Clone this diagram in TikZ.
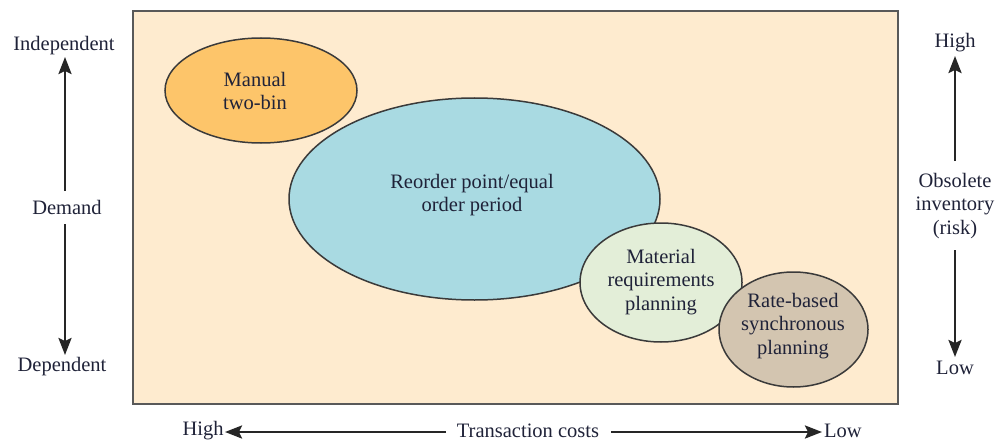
\documentclass[tikz,border=0pt]{standalone}
\usepackage{fontspec}
\setmainfont{Liberation Serif}
\usetikzlibrary{shapes.geometric,arrows.meta}
\definecolor{bgpeach}{HTML}{FEEBCF}
\definecolor{orangefill}{HTML}{FDC56A}
\definecolor{bluefill}{HTML}{A9DAE2}
\definecolor{greenfill}{HTML}{E3EED8}
\definecolor{tanfill}{HTML}{D3C5B0}
\definecolor{txt}{HTML}{1F2238}
\definecolor{edge}{HTML}{3A3A3A}
\begin{document}
\begin{tikzpicture}[x=1pt,y=-1pt,
  every node/.style={font=\fontsize{20.5}{23.5}\selectfont, text=txt, align=center},
  blob/.style={ellipse, draw=edge, line width=1.5pt, inner sep=0pt},
  axisarrow/.style={draw=black!85, line width=2.6pt, -{Stealth[length=17pt,width=13pt,inset=3pt]}}]
\useasboundingbox (0,0) rectangle (998,441);
% frame
\node[draw=black!65, line width=2pt, fill=bgpeach, minimum width=765pt, minimum height=393pt, inner sep=0pt] (frame) at (515.5,207.5) {};
% ellipses
\node[blob, fill=orangefill, minimum width=192pt, minimum height=105pt] (manual) at (261,90.5) {};
\node (manualt) at (255,91) {Manual\\two-bin};
\node[blob, fill=bluefill, minimum width=371pt, minimum height=202pt] (reorder) at (474.5,199) {};
\node (reordert) at (472,195) {Reorder point/equal\\order period};
\node[blob, fill=greenfill, minimum width=162pt, minimum height=119pt] (mrp) at (661,282.5) {};
\node (mrpt) at (661,282) {Material\\requirements\\planning};
\node[blob, fill=tanfill, minimum width=149pt, minimum height=115pt] (rate) at (793.5,329.5) {};
\node (ratet) at (793,326) {Rate-based\\synchronous\\planning};
% left axis
\node (indep) at (64,46) {Independent};
\node (demand) at (67,207) {Demand};
\node (dep) at (62,367) {Dependent};
\coordinate (l1) at (65,191);
\coordinate (l2) at (65,224);
\draw[axisarrow] (l1) -- (65,57);
\draw[axisarrow] (l2) -- (65,355);
% right axis
\node (high) at (955,43) {High};
\node (obs) at (955,206) {Obsolete\\inventory\\(risk)};
\node (low) at (955,368) {Low};
\coordinate (r1) at (955,161);
\coordinate (r2) at (955,250);
\draw[axisarrow] (r1) -- (955,56);
\draw[axisarrow] (r2) -- (955,357);
% bottom axis
\node (bhigh) at (203,431) {High};
\node (tc) at (528,431) {Transaction costs};
\node (blow) at (843,431) {Low};
\coordinate (b1) at (446,432);
\coordinate (b2) at (611,432);
\draw[axisarrow] (b1) -- (225,432);
\draw[axisarrow] (b2) -- (822,432);
\end{tikzpicture}
\end{document}
